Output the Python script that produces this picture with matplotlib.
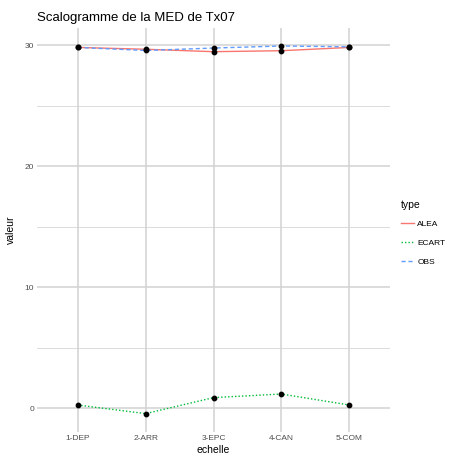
import matplotlib.pyplot as plt
from matplotlib.lines import Line2D

plt.rcParams['font.family'] = ['Liberation Sans', 'DejaVu Sans']

echelles = ["1-DEP", "2-ARR", "3-EPC", "4-CAN", "5-COM"]
alea = [29.80, 29.65, 29.45, 29.53, 29.80]
ecart = [0.25, -0.46, 0.86, 1.16, 0.25]
obs = [29.80, 29.55, 29.75, 29.92, 29.85]

types = ["ALEA", "ECART", "OBS"]
couleurs = {"ALEA": "#F8766D", "ECART": "#00BA38", "OBS": "#619CFF"}
styles = {"ALEA": "-", "ECART": (0, (1, 1.5)), "OBS": (0, (3, 2))}
valeurs = {"ALEA": alea, "ECART": ecart, "OBS": obs}

W, H = 449, 457
fig = plt.figure(figsize=(W / 100, H / 100), dpi=100)
ax = fig.add_axes([37 / W, 1 - 432 / H, (390 - 37) / W, (432 - 27.6) / H])

x = list(range(1, len(echelles) + 1))
for t in types:
    ax.plot(x, valeurs[t], color=couleurs[t], linestyle=styles[t], lw=1.0, zorder=3)
for t in types:
    ax.scatter(x, valeurs[t], color="black", s=10, zorder=4)

ax.set_xlim(0.4, 5.6)
ax.set_ylim(-1.98, 31.44)
ax.set_xticks(x)
ax.set_xticklabels(echelles)
ax.set_yticks([0, 10, 20, 30])
ax.set_yticks([5, 15, 25], minor=True)

ax.grid(True, which="major", color="#D2D2D2", lw=1.1)
ax.grid(True, which="minor", axis="y", color="#D2D2D2", lw=0.55)
ax.set_axisbelow(True)
for s in ax.spines.values():
    s.set_visible(False)
ax.tick_params(which="both", length=0, labelsize=6, labelcolor="#4D4D4D", pad=2)

ax.set_xlabel("echelle", fontsize=7.5, labelpad=2)
ax.set_ylabel("valeur", fontsize=7.5, labelpad=6)
ax.set_title("Scalogramme de la MED de Tx07", fontsize=9.5, loc="left", pad=5)

handles = [Line2D([], [], color=couleurs[t], linestyle=styles[t], lw=1.0) for t in types]
leg = fig.legend(handles, ["ALEA", "ECART", "OBS"], title="type", loc="upper left",
                 bbox_to_anchor=(393 / W, 1 - 192 / H), frameon=False, fontsize=6,
                 title_fontsize=7.5, handlelength=1.6, handletextpad=0.4, labelspacing=1.3)
leg._legend_box.align = "left"

fig.savefig("out.png", dpi=100)
